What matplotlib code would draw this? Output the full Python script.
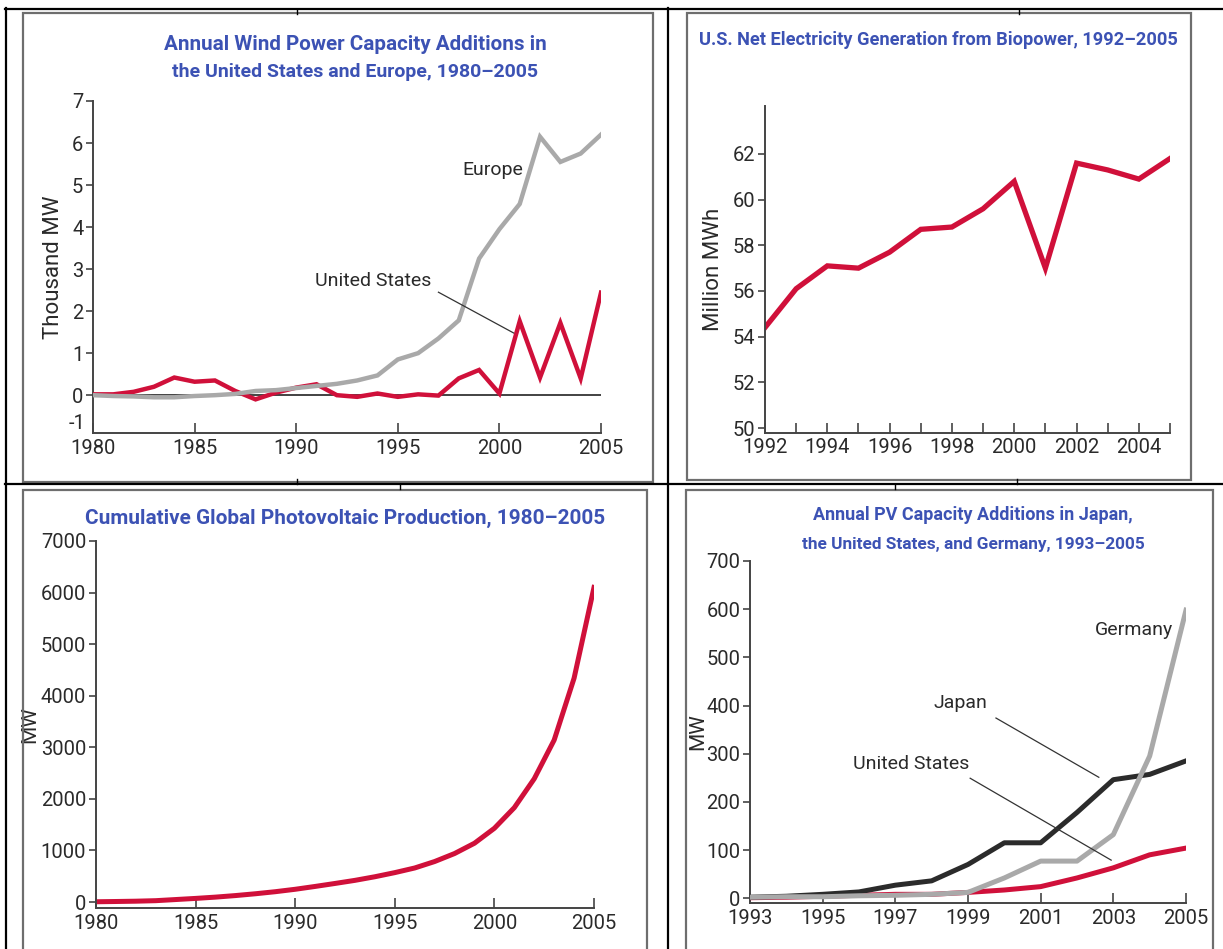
import matplotlib
matplotlib.use("Agg")
import matplotlib.pyplot as plt
from matplotlib.lines import Line2D
from matplotlib.patches import Rectangle

# ---- data ----
wind_years = list(range(1980, 2006))
wind_europe = [0.0, -0.02, -0.03, -0.05, -0.05, -0.02, 0.0, 0.03, 0.1, 0.12, 0.17, 0.22,
               0.27, 0.35, 0.47, 0.85, 1.0, 1.35, 1.78, 3.25, 3.95, 4.55, 6.15, 5.55, 5.75, 6.2]
wind_us = [0.02, 0.02, 0.08, 0.2, 0.42, 0.32, 0.35, 0.1, -0.1, 0.06, 0.18, 0.26,
           0.0, -0.04, 0.04, -0.04, 0.02, -0.01, 0.4, 0.6, 0.04, 1.76, 0.42, 1.72, 0.4, 2.44]

bio_years = list(range(1992, 2006))
bio_gen = [54.4, 56.1, 57.1, 57.0, 57.7, 58.7, 58.8, 59.6, 60.8, 57.0, 61.6, 61.3, 60.9, 61.8]

pv_years = list(range(1980, 2006))
pv_cum = [5, 10, 16, 26, 48, 70, 95, 125, 160, 200, 247, 302, 360, 420, 490, 570,
          660, 785, 940, 1140, 1430, 1830, 2390, 3140, 4340, 6100]

pva_years = list(range(1993, 2006))
pva_germany = [2, 3, 3, 5, 6, 8, 12, 42, 77, 77, 132, 295, 598]
pva_japan = [2, 4, 8, 13, 27, 36, 70, 115, 115, 178, 246, 257, 285]
pva_us = [1, 2, 4, 6, 8, 8, 12, 17, 24, 42, 63, 90, 104]

RED = "#d0103a"
GRAY = "#a9a9a9"
DARK = "#2b2b2b"
BLUE = "#3c52b4"
TXT = "#2a2a2a"
TICK_FS = 14.5
NOTE_FS = 14

plt.rcParams["font.family"] = ["Roboto", "DejaVu Sans"]
plt.rcParams["text.color"] = TXT
plt.rcParams["axes.labelcolor"] = TXT
plt.rcParams["xtick.color"] = "#444444"
plt.rcParams["ytick.color"] = "#444444"
plt.rcParams["xtick.labelcolor"] = TXT
plt.rcParams["ytick.labelcolor"] = TXT

W, H = 1223, 949
fig = plt.figure(figsize=(W / 100, H / 100), dpi=100)
fig.patch.set_facecolor("white")
renderer = fig.canvas.get_renderer()


def fx(px):
    return px / W


def fy(py):
    return 1 - py / H


def frame(x0, y0, x1, y1):
    # gray panel frame (pixel coordinates, y downwards)
    fig.add_artist(Rectangle((fx(x0), fy(y1)), fx(x1) - fx(x0), fy(y0) - fy(y1),
                             transform=fig.transFigure, fill=False,
                             edgecolor="#6e6e6e", linewidth=1.6))


def seg(x0, y0, x1, y1, lw=1.6):
    fig.add_artist(Line2D([fx(x0), fx(x1)], [fy(y0), fy(y1)], transform=fig.transFigure,
                          color="black", linewidth=lw))


def title(xc, yc, s, width_px):
    # blue bold title, sized so it spans the same width as in the original
    t = fig.text(fx(xc), fy(yc), s, color=BLUE, fontsize=14, fontweight="bold",
                 ha="center", va="center")
    w = t.get_window_extent(renderer).width
    t.set_fontsize(14 * width_px / w)


def make_axes(x0, x1, ybot, ytop):
    ax = fig.add_axes([fx(x0), fy(ybot), fx(x1) - fx(x0), fy(ytop) - fy(ybot)])
    ax.patch.set_alpha(0)
    for s in ("top", "right"):
        ax.spines[s].set_visible(False)
    for s in ("left", "bottom"):
        ax.spines[s].set_color("#444444")
        ax.spines[s].set_linewidth(1.4)
    ax.tick_params(axis="y", direction="out", length=5, width=1.2, labelsize=TICK_FS, pad=2)
    ax.tick_params(axis="x", which="both", direction="in", length=7, width=1.2,
                   labelsize=TICK_FS, pad=4)
    return ax


# outer table lines and panel frames
frame(23, 13, 653, 482)
frame(687, 13, 1191, 480)
frame(23, 490, 647, 960)
frame(686, 490, 1213, 960)
seg(5, 9, 1223, 9)
seg(5, 484, 1223, 484)
seg(6, 8, 6, 949)
seg(668, 8, 668, 949)
# small marks on the table lines
seg(297, 9, 297, 14, lw=1.0)
seg(1019, 9, 1019, 14, lw=1.0)
seg(297, 479, 297, 484, lw=1.0)
seg(1017, 479, 1017, 484, lw=1.0)
seg(400, 484, 400, 489, lw=1.0)
seg(895, 484, 895, 489, lw=1.0)

# ---- panel 1: wind ----
ax1 = make_axes(93, 601, 433, 101)
ax1.plot(wind_years, wind_us, color=RED, lw=3.2, solid_joinstyle="miter", zorder=3)
ax1.plot(wind_years, wind_europe, color=GRAY, lw=3.2, solid_joinstyle="miter", zorder=4)
ax1.axhline(0, color="#222222", lw=1.2, zorder=2)
ax1.set_xlim(1980, 2005)
ax1.set_ylim(-0.9, 7)
ax1.set_yticks(range(0, 8))
ax1.set_xticks(range(1980, 2006, 5))
ax1.text(-0.014, 0.0, "-1", transform=ax1.transAxes, ha="right", va="bottom",
         fontsize=TICK_FS)
ax1.set_ylabel("Thousand MW", fontsize=16, labelpad=6)
ax1.text(1999.7, 5.36, "Europe", fontsize=NOTE_FS, ha="center", va="center")
ax1.text(1993.8, 2.71, "United States", fontsize=NOTE_FS, ha="center", va="center")
ax1.plot([1997.0, 2000.7], [2.45, 1.48], color="#333333", lw=0.9, zorder=5)
title(355, 45, "Annual Wind Power Capacity Additions in", 385)
title(355, 72, "the United States and Europe, 1980\u20132005", 367)

# ---- panel 2: biopower ----
ax2 = make_axes(765, 1170, 432.6, 106)
ax2.plot(bio_years, bio_gen, color=RED, lw=3.8, solid_joinstyle="miter")
ax2.set_xlim(1992, 2005)
ax2.set_ylim(49.8, 64.1)
ax2.set_yticks(range(50, 63, 2))
ax2.set_xticks(range(1992, 2005, 2))
ax2.set_xticks(range(1993, 2006, 2), minor=True)
ax2.tick_params(axis="x", which="minor", direction="in", length=7, width=1.2)
ax2.set_ylabel("Million MWh", fontsize=16, labelpad=6)
title(938, 40, "U.S. Net Electricity Generation from Biopower, 1992\u20132005", 481)

# ---- panel 3: cumulative PV ----
ax3 = make_axes(96, 594, 908, 541)
ax3.plot(pv_years, pv_cum, color=RED, lw=3.6)
ax3.set_xlim(1980, 2005)
ax3.set_ylim(-116, 7000)
ax3.set_yticks(range(0, 7001, 1000))
ax3.set_xticks(range(1980, 2006, 5))
ax3.set_ylabel("MW", fontsize=15, labelpad=1)
title(345, 518, "Cumulative Global Photovoltaic Production, 1980\u20132005", 521)

# ---- panel 4: annual PV additions ----
ax4 = make_axes(750, 1186, 903, 561)
ax4.plot(pva_years, pva_us, color=RED, lw=3.6, zorder=3)
ax4.plot(pva_years, pva_japan, color=DARK, lw=3.6, zorder=4)
ax4.plot(pva_years, pva_germany, color=GRAY, lw=3.6, zorder=5)
ax4.set_xlim(1993, 2005)
ax4.set_ylim(-10, 700)
ax4.set_yticks(range(0, 701, 100))
ax4.set_xticks(range(1993, 2006, 2))
ax4.set_ylabel("MW", fontsize=15)
ax4.yaxis.set_label_coords(-0.097, 0.5)
ax4.text(2003.57, 557, "Germany", fontsize=NOTE_FS, ha="center", va="center")
ax4.text(1998.8, 405, "Japan", fontsize=NOTE_FS, ha="center", va="center")
ax4.text(1997.43, 278, "United States", fontsize=NOTE_FS, ha="center", va="center")
ax4.plot([1999.77, 2002.6], [374, 251], color="#333333", lw=0.9, zorder=6)
ax4.plot([1999.06, 2002.94], [249, 79], color="#333333", lw=0.9, zorder=6)
title(973, 515, "Annual PV Capacity Additions in Japan,", 321)
title(973, 544, "the United States, and Germany, 1993\u20132005", 346)

fig.savefig("out.png", dpi=100)
